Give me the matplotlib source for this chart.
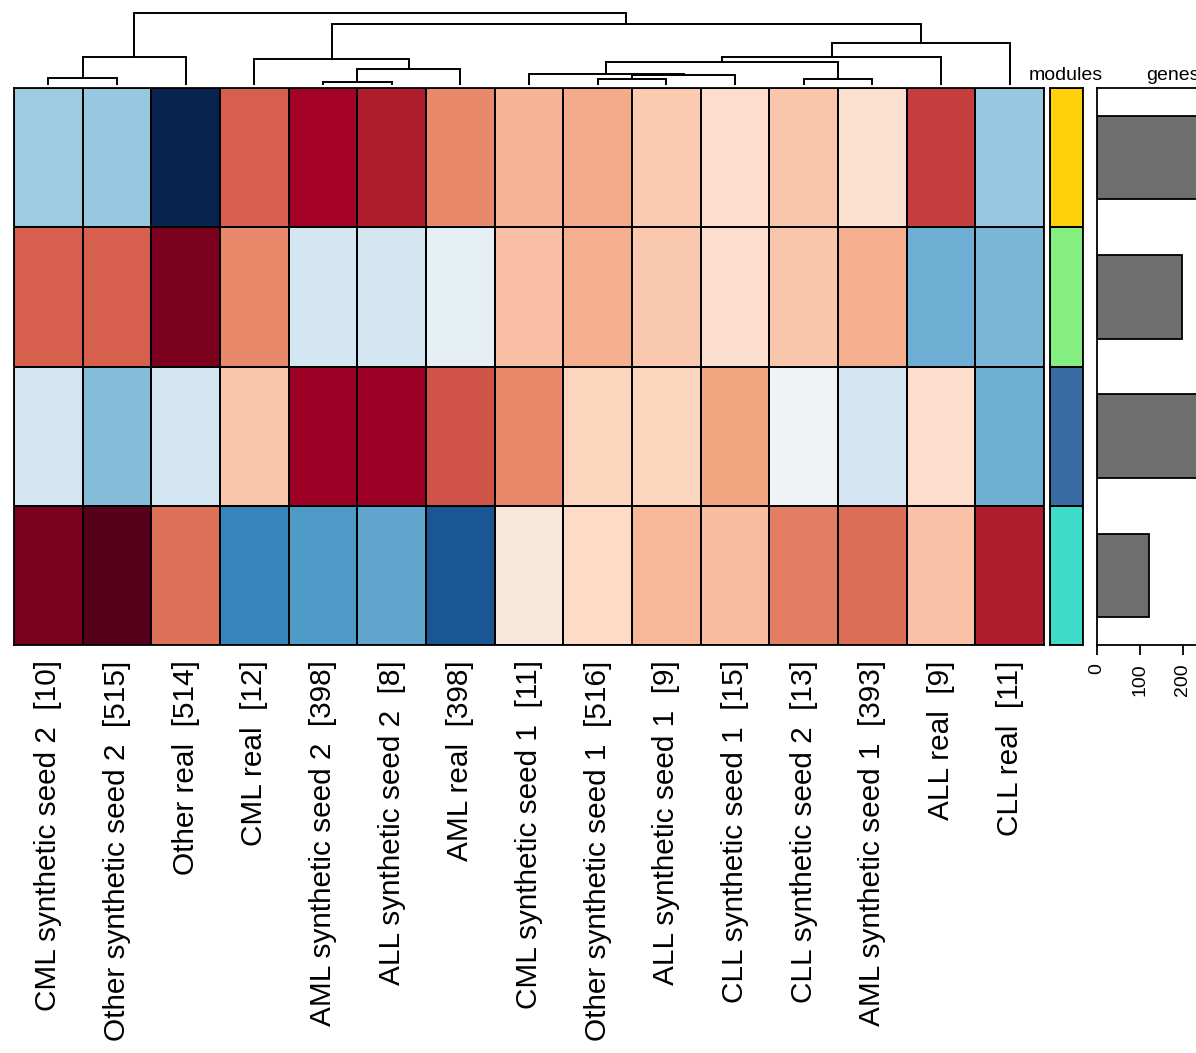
import matplotlib
matplotlib.use("Agg")
import matplotlib.pyplot as plt
import numpy as np
from matplotlib.colors import ListedColormap, LinearSegmentedColormap

plt.rcParams['font.family'] = ['Liberation Sans', 'DejaVu Sans']

samples = [
    "CML synthetic seed 2  [10]", "Other synthetic seed 2  [515]", "Other real  [514]",
    "CML real  [12]", "AML synthetic seed 2  [398]", "ALL synthetic seed 2  [8]",
    "AML real  [398]", "CML synthetic seed 1  [11]", "Other synthetic seed 1  [516]",
    "ALL synthetic seed 1  [9]", "CLL synthetic seed 1  [15]", "CLL synthetic seed 2  [13]",
    "AML synthetic seed 1  [393]", "ALL real  [9]", "CLL real  [11]",
]

module_names = ["gold", "lightgreen", "steelblue", "turquoise"]
module_colors = ["#FFD10A", "#84EE80", "#3A6CA4", "#3EDCC8"]

row_gold = [-0.36, -0.38, -1.00, 0.60, 0.86, 0.80, 0.48, 0.34, 0.38, 0.26, 0.18, 0.28, 0.16, 0.70, -0.38]
row_lightgreen = [0.60, 0.60, 0.94, 0.48, -0.18, -0.18, -0.09, 0.30, 0.36, 0.27, 0.17, 0.28, 0.36, -0.49, -0.46]
row_steelblue = [-0.18, -0.43, -0.18, 0.28, 0.88, 0.88, 0.64, 0.48, 0.22, 0.22, 0.40, -0.04, -0.18, 0.18, -0.49]
row_turquoise = [0.94, 1.00, 0.55, -0.67, -0.57, -0.53, -0.85, 0.11, 0.20, 0.33, 0.31, 0.51, 0.56, 0.29, 0.80]

genes = [300, 198, 290, 120]
gene_ticks = [0, 100, 200]

# dendrogram merges: (left, right, height); ids >= 15 refer to earlier merges
merges = [
    (0, 1, 7), (15, 2, 28), (4, 5, 3), (17, 6, 16), (3, 18, 26),
    (8, 9, 6), (20, 10, 10), (7, 21, 11), (11, 12, 6), (22, 23, 23),
    (24, 13, 28), (25, 14, 42), (19, 26, 61), (16, 27, 72),
]

cmap = LinearSegmentedColormap.from_list("rdbu_custom", [
    (0.0, "#07234E"), (0.1, "#2166AC"), (0.2, "#4393C3"), (0.3, "#92C5DE"),
    (0.4, "#D1E5F0"), (0.5, "#F7F7F7"), (0.6, "#FDDBC7"), (0.7, "#F4A582"),
    (0.8, "#D6604D"), (0.9, "#B01E2C"), (0.935, "#A30026"), (0.97, "#7E001E"),
    (1.0, "#57001B"),
])

W, H = 1196, 1053
fig = plt.figure(figsize=(W / 100, H / 100), dpi=100)

def ax_px(x0, y0, x1, y1):
    return fig.add_axes([x0 / W, 1 - y1 / H, (x1 - x0) / W, (y1 - y0) / H])

# heatmap
mat = np.array([row_gold, row_lightgreen, row_steelblue, row_turquoise])
nrow, ncol = mat.shape
axh = ax_px(14, 88, 1044, 645)
axh.pcolormesh(np.arange(ncol + 1), np.arange(nrow + 1), mat, cmap=cmap,
               vmin=-1, vmax=1, edgecolors="black", linewidth=1.3)
axh.set_xlim(0, ncol)
axh.set_ylim(nrow, 0)
axh.set_yticks([])
axh.set_xticks(np.arange(ncol) + 0.5)
axh.set_xticklabels(samples, rotation=90, fontsize=21.4)
axh.tick_params(axis="x", length=0, pad=11)
for s in axh.spines.values():
    s.set_linewidth(1.3)

# dendrogram
axd = ax_px(14, 0, 1044, 85)
pos = {i: i + 0.5 for i in range(ncol)}
hgt = {i: 0.0 for i in range(ncol)}
for k, (a, b, h) in enumerate(merges):
    nid = ncol + k
    xa, xb = pos[a], pos[b]
    axd.plot([xa, xa, xb, xb], [hgt[a], h, h, hgt[b]], color="black", lw=1.4,
             solid_joinstyle="miter")
    pos[nid] = (xa + xb) / 2
    hgt[nid] = h
axd.set_xlim(0, ncol)
axd.set_ylim(0, 85)
axd.axis("off")

# modules column
axm = ax_px(1050, 88, 1083, 645)
axm.pcolormesh(np.arange(2), np.arange(nrow + 1), np.arange(nrow).reshape(-1, 1),
               cmap=ListedColormap(module_colors), edgecolors="black", linewidth=1.3)
axm.set_xlim(0, 1)
axm.set_ylim(nrow, 0)
axm.set_xticks([])
axm.set_yticks([])
for s in axm.spines.values():
    s.set_linewidth(1.3)
fig.text(1066 / W, 1 - 75 / H, "modules", ha="center", va="center", fontsize=14)

# genes bar panel
axb = ax_px(1097, 88, 1250, 645)
axb.barh(np.arange(nrow) + 0.5, genes, height=0.6, color="#6E6E6E",
         edgecolor="black", linewidth=1.3)
axb.set_xlim(0, 153 / 0.43)
axb.set_ylim(nrow, 0)
axb.set_yticks([])
axb.set_xticks(gene_ticks)
axb.set_xticklabels([str(t) for t in gene_ticks], rotation=90, fontsize=14)
axb.tick_params(axis="x", length=7, width=1.3, pad=6)
for s in axb.spines.values():
    s.set_linewidth(1.3)
fig.text(1173 / W, 1 - 75 / H, "genes", ha="center", va="center", fontsize=14)

fig.savefig("out.png", dpi=100)
